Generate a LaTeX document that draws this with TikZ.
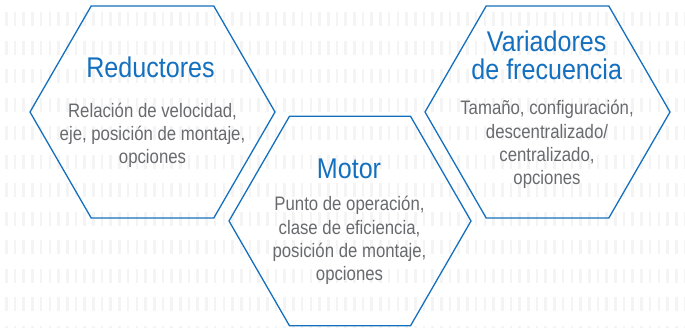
\documentclass[tikz,border=0pt]{standalone}
\usepackage{fontspec}
\setmainfont{Liberation Sans}
\newfontfamily\titlefont[FakeStretch=0.88]{Liberation Sans}
\newfontfamily\bodyfont[FakeStretch=0.86]{Liberation Sans}
\usetikzlibrary{shapes.geometric}
\definecolor{hexblue}{RGB}{20,112,190}
\definecolor{bodygrey}{RGB}{105,106,110}
\definecolor{stripe}{RGB}{244,244,244}
\tikzset{
  hexa/.style={regular polygon, regular polygon sides=6, draw=hexblue, line width=1.3pt, inner sep=0pt, outer sep=0pt},
  titletext/.style={text=hexblue, font=\titlefont\fontsize{28.5}{27.5}\selectfont, align=center, inner sep=0pt, anchor=base},
  bodytext/.style={text=bodygrey, font=\bodyfont\fontsize{19.5}{23.2}\selectfont, align=center, inner sep=0pt, anchor=base},
}
\begin{document}
\begin{tikzpicture}[x=1pt,y=-1pt]
\useasboundingbox (0,0) rectangle (685,327);
\begin{scope}
  \clip (0,0) rectangle (685,327);
  \foreach \r in {0,...,11}{
    \foreach \i in {0,...,78}{
      \fill[stripe] ({5+8.7*\i},{12+28.5*\r}) rectangle ++(2.6,14);
    }
  }
\end{scope}
\node[hexa, minimum size=245pt] (hexred) at (152.5,112) {};
\node[hexa, minimum size=242pt] (hexmot) at (350,221) {};
\node[hexa, minimum size=245pt] (hexvar) at (547.5,112) {};
% base anchor of a multi-line node = baseline of its last line
\node[titletext] (tred) at (150.5,77.7) {Reductores};
\node[bodytext] (bred) at (152.5,163.5) {Relación de velocidad,\\eje, posición de montaje,\\opciones};
\node[titletext] (tmot) at (349,178.3) {Motor};
\node[bodytext] (bmot) at (349.5,280.5) {Punto de operación,\\clase de eficiencia,\\posición de montaje,\\opciones};
\node[titletext] (tvar) at (546.7,79.2) {Variadores\\de frecuencia};
\node[bodytext] (bvar) at (547,184.5) {Tamaño, configuración,\\descentralizado/\\centralizado,\\opciones};
\end{tikzpicture}
\end{document}
